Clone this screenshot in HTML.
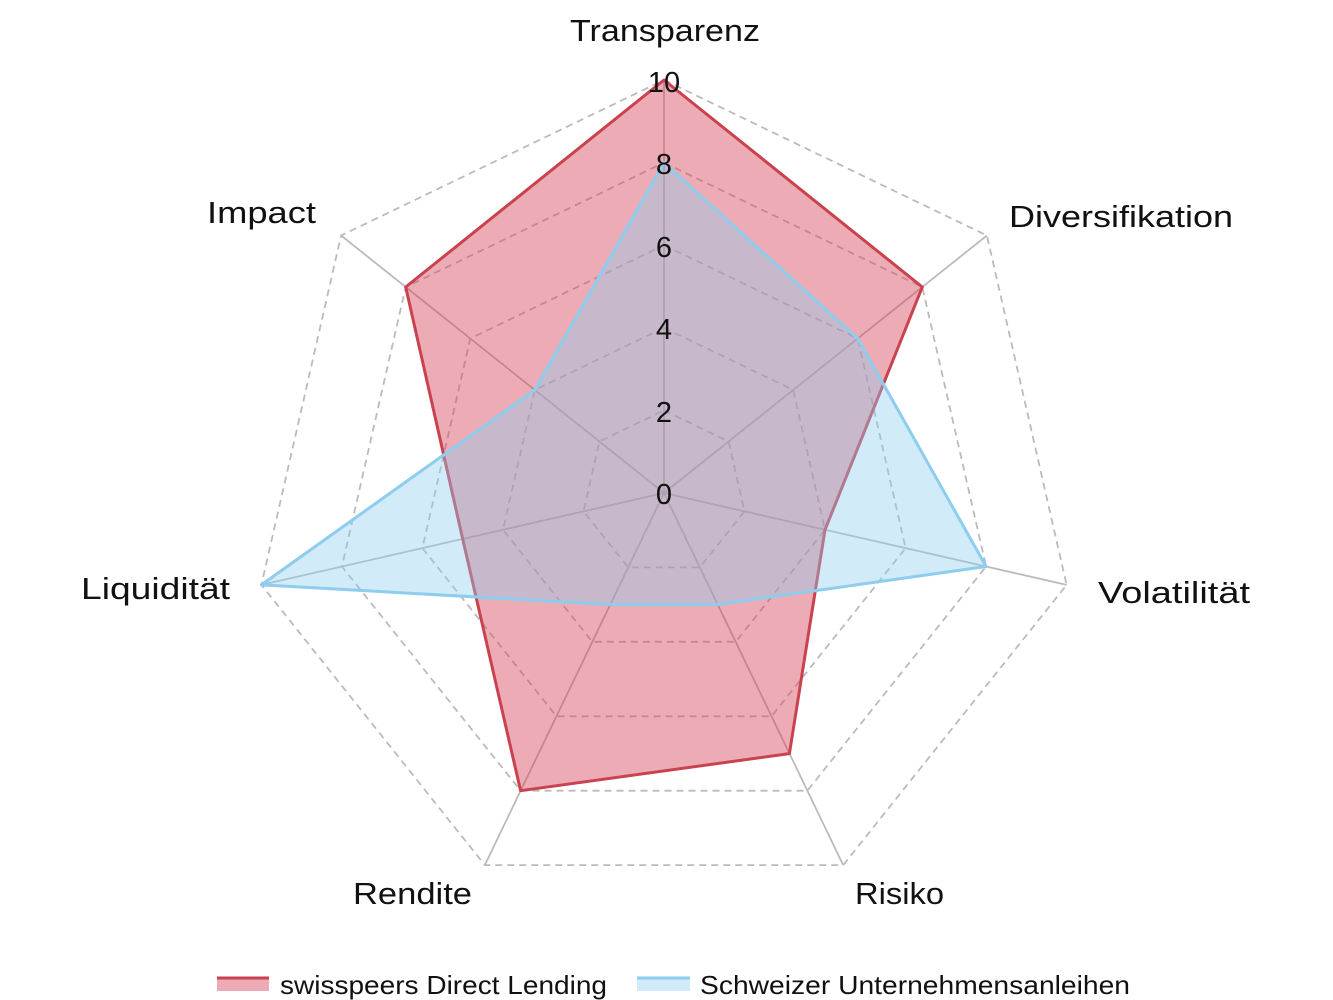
<!DOCTYPE html>
<html><head><meta charset="utf-8"><style>
html,body{margin:0;padding:0;background:#fff;}
svg{display:block;font-family:"Liberation Sans",sans-serif;}
</style></head><body>
<svg width="1333" height="1000" viewBox="0 0 1333 1000" xmlns="http://www.w3.org/2000/svg">
<g fill="none" stroke="#bbb" stroke-width="1.8" stroke-dasharray="7,5">
<polygon points="664,410.4 728.6,441.5 744.5,511.4 699.8,567.4 628.2,567.4 583.5,511.4 599.4,441.5"/>
<polygon points="664,327.8 793.2,389.9 825.0,529.8 735.7,641.8 592.3,641.8 503.0,529.8 534.8,389.9"/>
<polygon points="664,245.2 857.7,338.5 905.6,548.1 771.5,716.3 556.5,716.3 422.4,548.1 470.3,338.5"/>
<polygon points="664,162.6 922.3,287.0 986.1,566.5 807.4,790.7 520.6,790.7 341.9,566.5 405.7,287.0"/>
<polygon points="664,80 986.9,235.5 1066.6,584.9 843.2,865.1 484.8,865.1 261.4,584.9 341.1,235.5"/>
</g>
<g stroke="#bbb" stroke-width="1.8">
<line x1="664" y1="493" x2="664" y2="80"/><line x1="664" y1="493" x2="986.9" y2="235.5"/>
<line x1="664" y1="493" x2="1066.6" y2="584.9"/><line x1="664" y1="493" x2="843.2" y2="865.1"/>
<line x1="664" y1="493" x2="484.8" y2="865.1"/><line x1="664" y1="493" x2="261.4" y2="584.9"/>
<line x1="664" y1="493" x2="341.1" y2="235.5"/>
</g>
<polygon points="664,80 922.3,287.0 825.0,529.8 789.4,753.6 520.6,790.7 462.7,539.0 405.7,287.0" fill="rgba(214,70,90,0.45)" stroke="#c9424f" stroke-width="3" stroke-linejoin="round"/>
<polygon points="664,162.6 857.7,338.5 986.1,566.5 717.8,604.5 610.2,604.5 261.4,584.9 534.8,389.9" fill="rgba(142,205,238,0.4)" stroke="#8ecdee" stroke-width="3" stroke-linejoin="round"/>
<g font-size="29" fill="#111" text-anchor="middle">
<text x="664" y="92">10</text><text x="664" y="174">8</text><text x="664" y="257">6</text>
<text x="664" y="339">4</text><text x="664" y="422">2</text><text x="664" y="504">0</text>
</g>
<g font-size="31" fill="#111" lengthAdjust="spacingAndGlyphs">
<text x="570" y="41" textLength="190" lengthAdjust="spacingAndGlyphs">Transparenz</text>
<text x="1009" y="227" textLength="224" lengthAdjust="spacingAndGlyphs">Diversifikation</text>
<text x="1098" y="603" textLength="152" lengthAdjust="spacingAndGlyphs">Volatilität</text>
<text x="855" y="904" textLength="89" lengthAdjust="spacingAndGlyphs">Risiko</text>
<text x="353" y="904" textLength="119" lengthAdjust="spacingAndGlyphs">Rendite</text>
<text x="81" y="599" textLength="149" lengthAdjust="spacingAndGlyphs">Liquidität</text>
<text x="207" y="223" textLength="109" lengthAdjust="spacingAndGlyphs">Impact</text>
</g>
<rect x="217" y="977" width="52" height="14" fill="rgba(214,70,90,0.45)"/>
<line x1="217" y1="978" x2="269" y2="978" stroke="#c9424f" stroke-width="3"/>
<rect x="637" y="977" width="53" height="14" fill="rgba(142,205,238,0.4)"/>
<line x1="637" y1="978" x2="690" y2="978" stroke="#8ecdee" stroke-width="3"/>
<g font-size="26" fill="#111">
<text x="280" y="994" textLength="327" lengthAdjust="spacingAndGlyphs">swisspeers Direct Lending</text>
<text x="700" y="994" textLength="430" lengthAdjust="spacingAndGlyphs">Schweizer Unternehmensanleihen</text>
</g>
</svg>
</body></html>
